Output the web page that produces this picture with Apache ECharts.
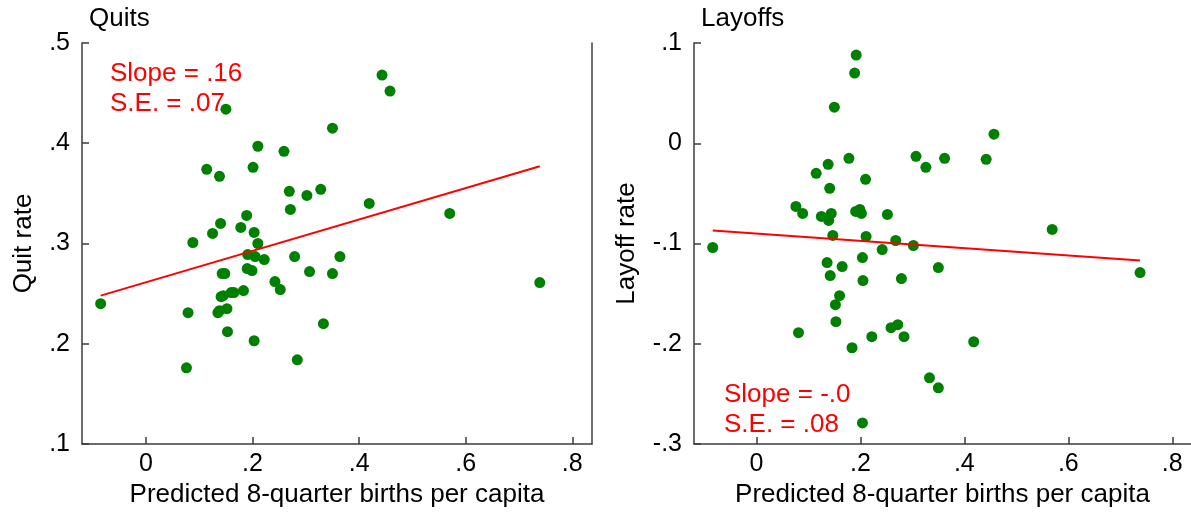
<!DOCTYPE html>
<html>
<head>
<meta charset="utf-8">
<script src="https://cdn.jsdelivr.net/npm/echarts@6/dist/echarts.min.js"></script>
<style>
  html, body { margin: 0; padding: 0; background: #fff; }
  #chart { width: 1191px; height: 513px; }
</style>
</head>
<body>
<div id="chart"></div>
<script>
// predicted 8-quarter births per capita vs quit rate
const quitX = [0.150, 0.350, 0.210, 0.259, 0.114, 0.138, 0.201, 0.269, 0.302, 0.328,
  0.271, 0.189, 0.140, 0.125, 0.178, 0.203, 0.210, 0.088, 0.443, 0.458,
  0.419, 0.570, 0.739, 0.364, -0.085, 0.079, 0.076, 0.191, 0.205, 0.222,
  0.279, 0.143, 0.148, 0.190, 0.199, 0.307, 0.350, 0.242, 0.252, 0.183,
  0.141, 0.145, 0.160, 0.165, 0.135, 0.138, 0.152, 0.153, 0.203, 0.333, 0.284];
const quitY = [0.434, 0.415, 0.397, 0.392, 0.374, 0.367, 0.376, 0.352, 0.348, 0.354,
  0.334, 0.328, 0.320, 0.310, 0.316, 0.311, 0.300, 0.301, 0.468, 0.452,
  0.340, 0.330, 0.261, 0.287, 0.240, 0.231, 0.176, 0.289, 0.287, 0.284,
  0.287, 0.270, 0.270, 0.275, 0.273, 0.272, 0.270, 0.262, 0.254, 0.253,
  0.247, 0.248, 0.251, 0.251, 0.231, 0.233, 0.235, 0.212, 0.203, 0.220, 0.184];

// predicted births vs layoff rate
const layoffX = [0.192, 0.189, 0.150, 0.178, 0.307, 0.326, 0.138, 0.115, 0.210, 0.141,
  0.076, 0.089, 0.125, 0.144, 0.139, 0.191, 0.199, 0.202, 0.252, 0.147,
  0.211, 0.268, 0.302, 0.242, -0.084, 0.457, 0.442, 0.362, 0.569, 0.350,
  0.738, 0.418, 0.333, 0.350, 0.204, 0.136, 0.165, 0.142, 0.205, 0.279,
  0.160, 0.152, 0.153, 0.081, 0.222, 0.184, 0.259, 0.272, 0.284, 0.204];
const layoffY = [0.088, 0.070, 0.036, -0.015, -0.013, -0.024, -0.021, -0.030, -0.036, -0.045,
  -0.063, -0.070, -0.073, -0.070, -0.077, -0.068, -0.066, -0.070, -0.071, -0.092,
  -0.093, -0.097, -0.102, -0.106, -0.104, 0.009, -0.016, -0.015, -0.086, -0.124,
  -0.129, -0.198, -0.234, -0.244, -0.114, -0.119, -0.123, -0.132, -0.137, -0.135,
  -0.152, -0.161, -0.178, -0.189, -0.193, -0.204, -0.184, -0.181, -0.193, -0.279];

// fitted line end points
const quitFitX = [-0.085, 0.739];
const quitFitY = [0.248, 0.377];
const layoffFitX = [-0.084, 0.738];
const layoffFitY = [-0.087, -0.117];

const xTicks = [0, 0.2, 0.4, 0.6, 0.8];
const quitTicks = [0.1, 0.2, 0.3, 0.4, 0.5];
const layoffTicks = [-0.3, -0.2, -0.1, 0, 0.1];

const zip = (xs, ys) => xs.map((x, i) => [x, ys[i]]);
const fmt = v => {
    if (Math.abs(v) < 1e-9) return '0';
    return String(+v.toFixed(2)).replace(/^(-?)0\./, '$1.');
};

const FONT = '"Liberation Sans", Arial, sans-serif';
const AXIS = '#3c3c3c';

const xAxisOpt = (grid, max) => ({
    type: 'value',
    gridIndex: grid,
    min: -0.12,
    max: max,
    name: 'Predicted 8-quarter births per capita',
    nameLocation: 'middle',
    nameGap: 37,
    nameTextStyle: { fontFamily: FONT, fontSize: 26, color: '#000' },
    axisLine: { onZero: false, lineStyle: { color: AXIS, width: 1.5 } },
    axisTick: { inside: true, length: 7, customValues: xTicks, lineStyle: { color: AXIS, width: 1.5 } },
    axisLabel: { customValues: xTicks, formatter: fmt, fontFamily: FONT, fontSize: 25, color: '#000', margin: 8 },
    splitLine: { show: false }
});

const yAxisOpt = (grid, min, max, ticks, name, gap) => ({
    type: 'value',
    gridIndex: grid,
    min: min,
    max: max,
    name: name,
    nameLocation: 'middle',
    nameGap: gap,
    nameTextStyle: { fontFamily: FONT, fontSize: 26, color: '#000' },
    axisLine: { show: true, onZero: false, lineStyle: { color: AXIS, width: 1.5 } },
    axisTick: { show: true, inside: true, length: 7, customValues: ticks, lineStyle: { color: AXIS, width: 1.5 } },
    axisLabel: { customValues: ticks, formatter: fmt, fontFamily: FONT, fontSize: 25, color: '#000', margin: 12 },
    splitLine: { show: false }
});

const chart = echarts.init(document.getElementById('chart'));
chart.setOption({
    backgroundColor: '#fff',
    animation: false,
    title: [
        { text: 'Quits', left: 84, top: 1, textStyle: { fontFamily: FONT, fontSize: 26, fontWeight: 'normal', color: '#000' } },
        { text: 'Layoffs', left: 696, top: 1, textStyle: { fontFamily: FONT, fontSize: 26, fontWeight: 'normal', color: '#000' } }
    ],
    grid: [
        { left: 82, top: 43, width: 510, height: 401 },
        { left: 694, top: 43, width: 501, height: 401 }
    ],
    xAxis: [xAxisOpt(0, 0.837), xAxisOpt(1, 0.836)],
    yAxis: [
        yAxisOpt(0, 0.1, 0.5, quitTicks, 'Quit rate', 45),
        yAxisOpt(1, -0.3, 0.1, layoffTicks, 'Layoff rate', 54),
        {
            type: 'value', gridIndex: 0, position: 'right', min: 0.1, max: 0.5,
            axisLine: { show: true, onZero: false, lineStyle: { color: AXIS, width: 1.5 } },
            axisTick: { show: false }, axisLabel: { show: false }, splitLine: { show: false }
        }
    ],
    graphic: [
        { type: 'text', left: 110, top: 59, style: { text: 'Slope = .16\nS.E. = .07', fill: '#ff0000', font: '26px "Liberation Sans", Arial, sans-serif', lineHeight: 30 } },
        { type: 'text', left: 724, top: 380, style: { text: 'Slope = -.0\nS.E. = .08', fill: '#ff0000', font: '26px "Liberation Sans", Arial, sans-serif', lineHeight: 30 } }
    ],
    series: [
        {
            type: 'scatter', xAxisIndex: 0, yAxisIndex: 0,
            data: zip(quitX, quitY), symbolSize: 11,
            itemStyle: { color: '#008000', opacity: 1 }, z: 2
        },
        {
            type: 'line', xAxisIndex: 0, yAxisIndex: 0,
            data: zip(quitFitX, quitFitY), showSymbol: false,
            lineStyle: { color: '#ff0000', width: 2 }, z: 3
        },
        {
            type: 'scatter', xAxisIndex: 1, yAxisIndex: 1,
            data: zip(layoffX, layoffY), symbolSize: 11,
            itemStyle: { color: '#008000', opacity: 1 }, z: 2
        },
        {
            type: 'line', xAxisIndex: 1, yAxisIndex: 1,
            data: zip(layoffFitX, layoffFitY), showSymbol: false,
            lineStyle: { color: '#ff0000', width: 2 }, z: 3
        }
    ]
});

window.addEventListener('resize', function () {
    chart.resize();
});
</script>
</body>
</html>
